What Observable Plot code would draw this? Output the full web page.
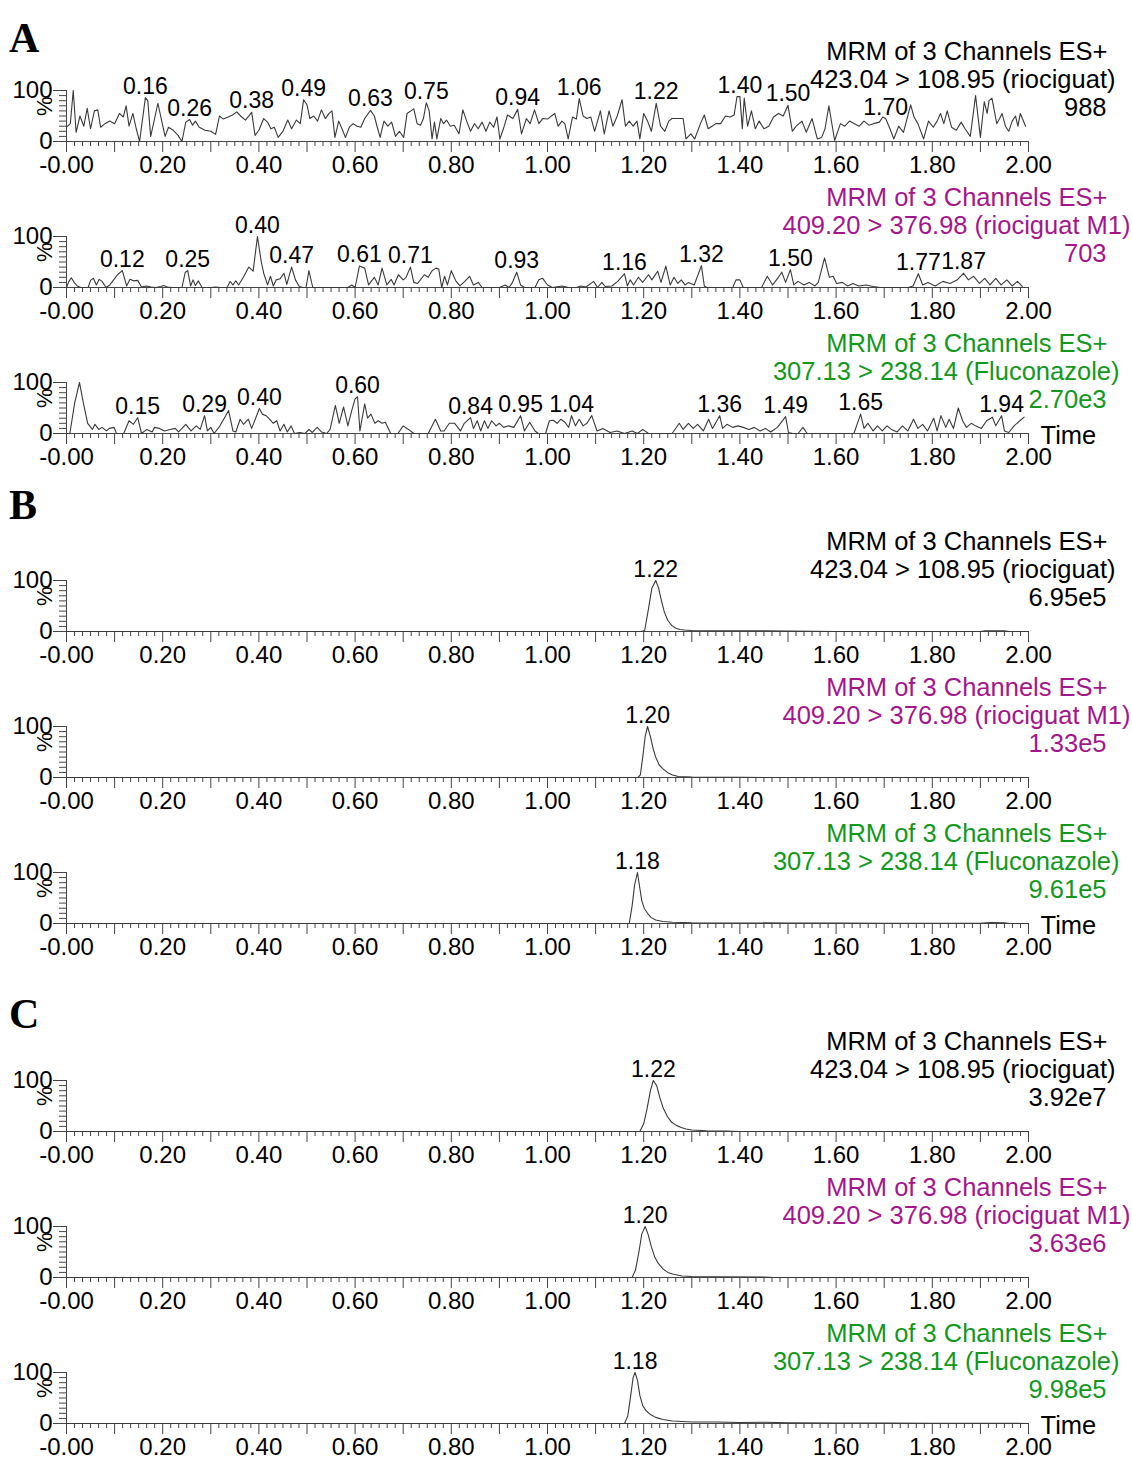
<!DOCTYPE html>
<html><head><meta charset="utf-8">
<script src="https://cdn.jsdelivr.net/npm/d3@7"></script>
<script src="https://cdn.jsdelivr.net/npm/@observablehq/plot@0.6"></script>
<style>
body{margin:0;background:#fff;}
#root{position:relative;width:1132px;height:1459px;overflow:hidden;background:#fff;font-family:"Liberation Sans",Arial,sans-serif;}
.panel{position:absolute;left:0;}
.panel svg{display:block;}
.letter{position:absolute;left:9px;font-family:"Liberation Serif","Times New Roman",serif;font-weight:bold;font-size:42px;line-height:1;color:#000;}
</style></head><body><div id="root"></div>
<script>
// ---- channel info ----
const header = "MRM of 3 Channels ES+";
const channelNames = ["423.04 > 108.95 (riociguat)", "409.20 > 376.98 (riociguat M1)", "307.13 > 238.14 (Fluconazole)"];
const channelColors = ["#000000", "#a4168e", "#12981c"];
const groupLetters = ["A", "B", "C"];
const intensitiesA = ["988", "703", "2.70e3"];
const intensitiesB = ["6.95e5", "1.33e5", "9.61e5"];
const intensitiesC = ["3.92e7", "3.63e6", "9.98e5"];
const timeTickLabels = [0, 0.2, 0.4, 0.6, 0.8, 1.0, 1.2, 1.4, 1.6, 1.8, 2.0];
const timeMidTicks = [0.1, 0.3, 0.5, 0.7, 0.9, 1.1, 1.3, 1.5, 1.7, 1.9];
const pctTickLabels = [0, 100];
const pctMinorTicks = [10, 20, 30, 40, 50, 60, 70, 80, 90];

// ---- traces: [time (min), relative intensity (%)] ----
const traceA1 = [[0.000,28],[0.008,35],[0.014,100],[0.020,18],[0.028,50],[0.036,30],[0.043,65],[0.050,25],[0.058,60],[0.065,62],[0.071,28],[0.080,35],[0.090,40],[0.100,35],[0.110,55],[0.118,48],[0.124,70],[0.130,30],[0.138,55],[0.145,25],[0.152,0],[0.164,86],[0.169,80],[0.175,10],[0.182,40],[0.190,75],[0.198,40],[0.205,10],[0.212,28],[0.222,22],[0.232,12],[0.240,0],[0.248,38],[0.256,43],[0.262,32],[0.268,40],[0.276,28],[0.288,22],[0.300,20],[0.310,14],[0.318,50],[0.326,44],[0.336,48],[0.345,52],[0.354,58],[0.362,50],[0.372,42],[0.385,57],[0.392,12],[0.400,22],[0.410,45],[0.418,38],[0.425,25],[0.432,28],[0.440,8],[0.450,20],[0.460,42],[0.468,25],[0.478,42],[0.486,35],[0.493,82],[0.500,72],[0.506,45],[0.514,50],[0.522,40],[0.530,62],[0.538,45],[0.546,55],[0.552,60],[0.558,8],[0.566,40],[0.574,22],[0.580,8],[0.588,28],[0.596,35],[0.604,30],[0.612,28],[0.620,45],[0.632,61],[0.640,50],[0.647,25],[0.652,8],[0.660,40],[0.668,30],[0.676,38],[0.684,10],[0.692,20],[0.701,8],[0.708,55],[0.722,64],[0.729,35],[0.736,32],[0.742,45],[0.748,76],[0.754,60],[0.760,5],[0.765,38],[0.770,5],[0.778,45],[0.784,35],[0.790,42],[0.798,30],[0.806,32],[0.816,15],[0.824,62],[0.832,40],[0.840,20],[0.848,35],[0.856,25],[0.864,38],[0.872,20],[0.880,38],[0.888,28],[0.895,48],[0.901,5],[0.910,30],[0.917,52],[0.928,45],[0.938,63],[0.946,15],[0.956,45],[0.964,35],[0.973,62],[0.982,35],[0.990,45],[1.000,44],[1.015,55],[1.022,30],[1.030,40],[1.036,35],[1.043,5],[1.052,48],[1.060,44],[1.066,84],[1.074,50],[1.082,45],[1.090,48],[1.098,20],[1.110,60],[1.118,15],[1.128,60],[1.136,30],[1.145,50],[1.155,82],[1.162,30],[1.170,40],[1.178,30],[1.186,40],[1.192,5],[1.200,55],[1.208,40],[1.216,20],[1.226,75],[1.235,30],[1.244,20],[1.252,40],[1.259,45],[1.282,45],[1.288,5],[1.298,15],[1.306,5],[1.318,35],[1.326,52],[1.334,25],[1.342,30],[1.350,35],[1.360,35],[1.370,50],[1.380,48],[1.388,52],[1.394,88],[1.400,88],[1.405,25],[1.409,85],[1.416,30],[1.424,60],[1.432,25],[1.440,40],[1.450,25],[1.460,30],[1.470,48],[1.480,55],[1.490,50],[1.500,71],[1.509,20],[1.517,30],[1.529,40],[1.538,18],[1.550,45],[1.561,5],[1.570,8],[1.577,25],[1.585,70],[1.597,2],[1.609,35],[1.618,30],[1.628,40],[1.638,35],[1.648,30],[1.658,40],[1.668,32],[1.678,35],[1.690,38],[1.697,48],[1.703,45],[1.712,25],[1.720,5],[1.730,30],[1.740,18],[1.755,72],[1.762,48],[1.770,35],[1.782,5],[1.792,40],[1.802,28],[1.810,40],[1.817,55],[1.824,35],[1.831,60],[1.840,28],[1.850,22],[1.860,38],[1.868,25],[1.879,10],[1.890,90],[1.900,8],[1.908,78],[1.914,55],[1.918,80],[1.924,85],[1.934,35],[1.940,45],[1.945,55],[1.952,30],[1.959,20],[1.966,40],[1.973,50],[1.978,30],[1.983,55],[1.994,30]];
const traceA2 = [[0.000,0],[0.005,12],[0.010,19],[0.016,10],[0.022,3],[0.030,0],[0.045,0],[0.050,14],[0.056,18],[0.062,5],[0.068,16],[0.074,12],[0.082,0],[0.090,5],[0.098,15],[0.106,25],[0.116,33],[0.125,3],[0.132,16],[0.140,13],[0.148,14],[0.156,1],[0.166,3],[0.176,1],[0.186,0],[0.196,2],[0.202,4],[0.210,1],[0.220,0],[0.240,0],[0.247,30],[0.252,33],[0.258,3],[0.263,15],[0.268,4],[0.274,13],[0.282,0],[0.300,0],[0.310,1],[0.320,0],[0.334,0],[0.340,12],[0.346,5],[0.352,13],[0.358,5],[0.370,24],[0.379,40],[0.388,32],[0.397,100],[0.405,50],[0.410,28],[0.418,5],[0.424,22],[0.430,3],[0.436,15],[0.444,17],[0.452,28],[0.458,6],[0.468,40],[0.476,15],[0.484,2],[0.492,0],[0.498,0],[0.504,33],[0.512,0],[0.530,0],[0.560,0],[0.585,0],[0.593,5],[0.600,0],[0.609,42],[0.620,38],[0.628,5],[0.640,20],[0.648,5],[0.656,38],[0.666,5],[0.675,16],[0.681,5],[0.690,25],[0.700,15],[0.706,20],[0.715,40],[0.722,10],[0.730,8],[0.744,25],[0.752,20],[0.760,33],[0.768,38],[0.774,36],[0.780,0],[0.786,22],[0.792,5],[0.800,33],[0.810,12],[0.818,3],[0.828,12],[0.838,22],[0.846,5],[0.856,10],[0.864,0],[0.880,0],[0.900,0],[0.912,5],[0.920,0],[0.926,8],[0.936,30],[0.944,5],[0.952,0],[0.974,0],[0.982,15],[0.990,18],[1.000,5],[1.010,0],[1.030,3],[1.044,0],[1.060,0],[1.070,3],[1.080,1],[1.096,12],[1.104,0],[1.113,10],[1.120,2],[1.134,3],[1.146,12],[1.160,27],[1.166,3],[1.172,15],[1.179,5],[1.189,20],[1.198,10],[1.210,25],[1.217,15],[1.229,32],[1.236,10],[1.246,42],[1.255,5],[1.263,20],[1.271,8],[1.278,15],[1.286,5],[1.293,10],[1.305,5],[1.320,43],[1.326,3],[1.331,0],[1.385,0],[1.392,15],[1.400,15],[1.407,0],[1.445,0],[1.457,22],[1.468,5],[1.480,20],[1.487,30],[1.495,10],[1.505,35],[1.512,5],[1.521,12],[1.533,5],[1.544,10],[1.556,3],[1.563,10],[1.576,58],[1.586,20],[1.594,22],[1.601,8],[1.613,10],[1.624,3],[1.635,8],[1.647,3],[1.662,5],[1.677,2],[1.692,0],[1.750,0],[1.760,3],[1.771,27],[1.780,5],[1.791,10],[1.806,3],[1.822,12],[1.837,8],[1.852,15],[1.865,28],[1.875,15],[1.886,22],[1.898,8],[1.909,18],[1.920,5],[1.932,18],[1.943,5],[1.955,15],[1.966,3],[1.977,12],[1.987,2]];
const traceA3 = [[0.000,0],[0.007,0],[0.017,60],[0.027,100],[0.035,60],[0.044,20],[0.054,8],[0.059,18],[0.067,8],[0.074,12],[0.083,5],[0.089,10],[0.099,12],[0.104,0],[0.119,0],[0.130,25],[0.139,18],[0.148,31],[0.156,0],[0.167,8],[0.178,3],[0.183,12],[0.193,10],[0.204,5],[0.215,8],[0.226,10],[0.233,3],[0.248,18],[0.259,5],[0.270,15],[0.278,8],[0.287,35],[0.293,5],[0.300,12],[0.307,0],[0.319,15],[0.328,30],[0.337,45],[0.346,5],[0.352,3],[0.361,28],[0.368,18],[0.378,28],[0.385,10],[0.401,49],[0.407,38],[0.415,35],[0.422,28],[0.430,20],[0.437,25],[0.444,5],[0.452,18],[0.459,3],[0.467,15],[0.474,0],[0.485,2],[0.496,0],[0.504,8],[0.511,2],[0.521,12],[0.530,3],[0.541,0],[0.548,8],[0.559,55],[0.567,20],[0.576,52],[0.585,15],[0.593,45],[0.600,68],[0.605,72],[0.610,5],[0.620,58],[0.626,30],[0.633,38],[0.641,20],[0.648,25],[0.656,20],[0.663,22],[0.674,0],[0.689,0],[0.700,15],[0.711,8],[0.722,0],[0.752,0],[0.767,28],[0.778,5],[0.785,5],[0.796,20],[0.807,20],[0.819,5],[0.827,20],[0.840,31],[0.846,10],[0.854,25],[0.861,5],[0.869,25],[0.876,10],[0.884,25],[0.893,15],[0.900,20],[0.909,12],[0.919,15],[0.930,12],[0.944,35],[0.952,5],[0.963,22],[0.974,5],[0.981,0],[0.996,0],[1.004,25],[1.012,26],[1.020,20],[1.028,28],[1.036,22],[1.044,12],[1.050,35],[1.058,15],[1.066,28],[1.074,15],[1.082,20],[1.092,35],[1.103,5],[1.115,10],[1.130,2],[1.145,5],[1.160,0],[1.176,5],[1.187,0],[1.198,8],[1.210,0],[1.259,0],[1.274,20],[1.282,8],[1.293,20],[1.303,10],[1.312,18],[1.324,5],[1.335,28],[1.343,10],[1.358,35],[1.364,10],[1.373,18],[1.385,12],[1.396,15],[1.407,12],[1.419,8],[1.430,12],[1.442,5],[1.453,10],[1.464,3],[1.478,12],[1.495,33],[1.501,2],[1.510,0],[1.521,0],[1.531,12],[1.540,0],[1.637,0],[1.651,38],[1.658,10],[1.666,20],[1.677,5],[1.686,15],[1.696,5],[1.706,15],[1.715,8],[1.727,3],[1.738,15],[1.749,5],[1.761,28],[1.770,10],[1.780,18],[1.790,5],[1.803,30],[1.810,5],[1.818,35],[1.828,12],[1.835,28],[1.844,10],[1.854,50],[1.863,25],[1.871,12],[1.881,20],[1.890,15],[1.902,10],[1.913,25],[1.925,32],[1.932,15],[1.944,35],[1.950,5],[1.959,2],[1.970,15],[1.982,25],[1.991,32]];
const traceB1 = [[0,0],[1.195,0],[1.202,2],[1.210,45],[1.217,85],[1.225,100],[1.231,85],[1.237,60],[1.243,38],[1.250,22],[1.258,12],[1.266,7],[1.275,4],[1.285,3],[1.300,2],[1.350,1.5],[1.450,1.5],[1.500,1],[1.550,0.5],[1.600,0],[1.900,0],[1.910,1.5],[1.950,1.5],[1.960,0],[2.000,0]];
const traceB2 = [[0,0],[1.188,0],[1.193,5],[1.198,40],[1.203,80],[1.208,100],[1.214,80],[1.220,55],[1.225,40],[1.232,25],[1.239,18],[1.249,10],[1.260,5],[1.272,2],[1.300,1],[1.400,0.5],[1.450,0],[2.000,0]];
const traceB3 = [[0,0],[1.170,0],[1.176,35],[1.181,75],[1.187,100],[1.191,75],[1.196,45],[1.201,30],[1.208,20],[1.215,12],[1.225,7],[1.240,4],[1.260,2.5],[1.300,1.5],[1.500,1],[1.600,1],[1.700,0.5],[1.900,0.5],[1.920,2],[1.950,1.5],[1.960,0],[2.000,0]];
const traceC1 = [[0,0],[1.192,0],[1.200,15],[1.207,45],[1.214,80],[1.220,100],[1.227,90],[1.234,65],[1.241,45],[1.249,30],[1.258,18],[1.268,12],[1.278,8],[1.288,5],[1.300,3],[1.330,1.5],[1.370,1],[1.400,0],[2.000,0]];
const traceC2 = [[0,0],[1.176,0],[1.183,15],[1.190,50],[1.196,85],[1.203,100],[1.209,85],[1.216,60],[1.223,40],[1.230,28],[1.240,17],[1.250,10],[1.260,7],[1.270,5],[1.280,3],[1.300,2],[1.350,1.5],[1.450,1],[1.470,0],[2.000,0]];
const traceC3 = [[0,0],[1.160,0],[1.167,15],[1.173,55],[1.178,90],[1.182,100],[1.187,85],[1.192,55],[1.198,35],[1.205,25],[1.215,17],[1.225,12],[1.240,8],[1.260,5],[1.280,4],[1.300,3],[1.350,3],[1.400,2],[1.450,2.5],[1.500,1.5],[1.600,1],[1.700,1],[1.800,0.5],[1.950,0.5],[2.000,0]];

// ---- labelled peaks: [label, apex time, apex intensity %] ----
const peaksA1 = [["0.16",0.164,86],["0.26",0.256,43],["0.38",0.385,57],["0.49",0.493,82],["0.63",0.632,61],["0.75",0.748,76],["0.94",0.938,63],["1.06",1.066,84],["1.22",1.226,75],["1.40",1.400,88],["1.50",1.500,71],["1.70",1.703,45]];
const peaksA2 = [["0.12",0.116,33],["0.25",0.252,33],["0.40",0.397,100],["0.47",0.468,40],["0.61",0.609,42],["0.71",0.715,40],["0.93",0.936,30],["1.16",1.160,27],["1.32",1.320,43],["1.50",1.505,35],["1.77",1.771,27],["1.87",1.865,28]];
const peaksA3 = [["0.15",0.148,31],["0.29",0.287,35],["0.40",0.401,49],["0.60",0.605,72],["0.84",0.840,31],["0.95",0.944,35],["1.04",1.050,35],["1.36",1.358,35],["1.49",1.495,33],["1.65",1.651,38],["1.94",1.944,35]];
const peaksB1 = [["1.22",1.225,100]];
const peaksB2 = [["1.20",1.208,100]];
const peaksB3 = [["1.18",1.187,100]];
const peaksC1 = [["1.22",1.220,100]];
const peaksC2 = [["1.20",1.203,100]];
const peaksC3 = [["1.18",1.182,100]];

// ---- assemble ----
const groups = [
  {letter: groupLetters[0], top: 36, letterTop: 17, traces: [traceA1, traceA2, traceA3], peaks: [peaksA1, peaksA2, peaksA3], intens: intensitiesA},
  {letter: groupLetters[1], top: 526, letterTop: 484, traces: [traceB1, traceB2, traceB3], peaks: [peaksB1, peaksB2, peaksB3], intens: intensitiesB},
  {letter: groupLetters[2], top: 1026, letterTop: 993, traces: [traceC1, traceC2, traceC3], peaks: [peaksC1, peaksC2, peaksC3], intens: intensitiesC}
];

const FONT = '"Liberation Sans", Arial, sans-serif';
const AXIS = "#444";
const TRACE = "#3a3a3a";
const line2dx = [87, 102, 91];
const timeMinorTicks = d3.range(0, 121).filter(i => i % 6 !== 0).map(i => i / 60);
const fmtTime = d => d === 0 ? "-0.00" : d.toFixed(2);

function makePanel(trace, peaks, ch, intensity, showTime) {
  const color = channelColors[ch];
  const data = trace.map(([t, v]) => ({t, v}));
  const pk = peaks.map(([rt, t, v]) => ({rt, t, v}));
  const marks = [
    Plot.axisX(timeMinorTicks, {tickSize: 5, stroke: AXIS, fill: null, label: null}),
    Plot.axisX(timeMidTicks, {tickSize: 11, stroke: AXIS, fill: null, label: null}),
    Plot.axisX(timeTickLabels, {tickSize: 11, tickPadding: 3, stroke: AXIS, fill: "#000", fontSize: 24, tickFormat: fmtTime, label: null}),
    Plot.axisY(pctMinorTicks, {tickSize: 7, stroke: AXIS, fill: null, label: null}),
    Plot.axisY(pctTickLabels, {tickSize: 13, tickPadding: 1, stroke: AXIS, fill: "#000", fontSize: 24, tickFormat: d => String(d), label: null}),
    Plot.ruleY([0], {stroke: AXIS}),
    Plot.ruleX([0], {stroke: AXIS}),
    Plot.line(data, {x: "t", y: "v", stroke: TRACE, strokeWidth: 1.1}),
    Plot.text(pk, {x: "t", y: "v", text: "rt", dy: -4, lineAnchor: "bottom", fontSize: 23, fill: "#000"}),
    Plot.text(["%"], {frameAnchor: "left", text: d => d, dx: -22, rotate: -90, fontSize: 22, fill: "#000"}),
    Plot.text([header], {frameAnchor: "top-right", text: d => d, dx: 79, dy: -39, textAnchor: "end", lineAnchor: "middle", fontSize: 25.5, fill: color}),
    Plot.text([channelNames[ch]], {frameAnchor: "top-right", text: d => d, dx: line2dx[ch], dy: -11, textAnchor: "end", lineAnchor: "middle", fontSize: 25.5, fill: color}),
    Plot.text([intensity], {frameAnchor: "top-right", text: d => d, dx: 78, dy: 17, textAnchor: "end", lineAnchor: "middle", fontSize: 25.5, fill: color})
  ];
  if (showTime) marks.push(Plot.text(["Time"], {frameAnchor: "bottom-right", text: d => d, dx: 12, dy: 2, textAnchor: "start", lineAnchor: "middle", fontSize: 25.5, fill: "#000"}));
  return Plot.plot({
    width: 1132, height: 146,
    marginLeft: 66, marginRight: 104, marginTop: 54, marginBottom: 41,
    x: {domain: [0, 2], axis: null},
    y: {domain: [0, 100], axis: null},
    style: {fontFamily: FONT, fontSize: "24px", color: "#000", background: "transparent"},
    marks
  });
}

const root = document.getElementById("root");
for (const g of groups) {
  const L = document.createElement("div");
  L.className = "letter";
  L.style.top = g.letterTop + "px";
  L.textContent = g.letter;
  root.appendChild(L);
  for (let ch = 0; ch < 3; ch++) {
    const wrap = document.createElement("div");
    wrap.className = "panel";
    wrap.style.top = (g.top + ch * 146) + "px";
    wrap.appendChild(makePanel(g.traces[ch], g.peaks[ch], ch, g.intens[ch], ch === 2));
    root.appendChild(wrap);
  }
}
</script></body></html>
